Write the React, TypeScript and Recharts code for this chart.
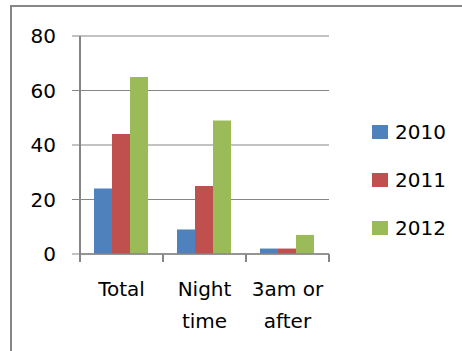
import React from 'react';
import { BarChart, Bar, XAxis, YAxis, CartesianGrid } from 'recharts';

const categories = ['Total', 'Night time', '3am or after'];
const categoryLines = [['Total'], ['Night', 'time'], ['3am or', 'after']];
const values2010 = [24, 9, 2];
const values2011 = [44, 25, 2];
const values2012 = [65, 49, 7];
const yTicks = [0, 20, 40, 60, 80];

const SERIES = [
  { key: '2010', color: '#4F81BD' },
  { key: '2011', color: '#C0504D' },
  { key: '2012', color: '#9BBB59' },
];

const W = 462;
const H = 351;
const MARGIN = { top: 36, right: 133, bottom: 0, left: 0 };
const Y_AXIS_W = 80;
const X_AXIS_H = 97;
const AXIS_GRAY = '#868686';
const FONT = '"DejaVu Sans", sans-serif';

const PLOT_BOTTOM = H - MARGIN.bottom - X_AXIS_H;
const BAND = (W - MARGIN.left - MARGIN.right - Y_AXIS_W) / categories.length;

const data = categories.map((name, i) => ({
  name,
  '2010': values2010[i],
  '2011': values2011[i],
  '2012': values2012[i],
}));

const CategoryTick = (props: any) => {
  const { x, index } = props;
  const lines = categoryLines[index] || [];
  const left = x - BAND / 2;
  const right = x + BAND / 2;
  return (
    <g>
      <line x1={left} x2={left} y1={PLOT_BOTTOM} y2={PLOT_BOTTOM + 8} stroke={AXIS_GRAY} strokeWidth={2} />
      {index === categories.length - 1 && (
        <line x1={right} x2={right} y1={PLOT_BOTTOM} y2={PLOT_BOTTOM + 8} stroke={AXIS_GRAY} strokeWidth={2} />
      )}
      {lines.map((t, i) => (
        <text
          key={t}
          x={x}
          y={PLOT_BOTTOM + 42 + i * 32}
          textAnchor="middle"
          fill="#000"
          fontSize={20}
          fontFamily={FONT}
        >
          {t}
        </text>
      ))}
    </g>
  );
};

// legend sits to the right of the plot, one row per year
const LegendBox = () => (
  <div
    style={{
      position: 'absolute',
      left: 372,
      top: 108,
      fontFamily: FONT,
      fontSize: 20,
      color: '#000',
    }}
  >
    {SERIES.map((s) => (
      <div key={s.key} style={{ display: 'flex', alignItems: 'center', height: 48 }}>
        <span style={{ display: 'inline-block', width: 16, height: 14, background: s.color, marginRight: 7 }} />
        <span>{s.key}</span>
      </div>
    ))}
  </div>
);

export default function App() {
  return (
    <div style={{ position: 'absolute', left: 0, top: 0, width: W, height: H, background: '#fff' }}>
      <div
        style={{
          position: 'absolute',
          left: 10,
          top: 5,
          width: W - 12,
          height: H - 7,
          borderLeft: `2px solid ${AXIS_GRAY}`,
          borderTop: `2px solid ${AXIS_GRAY}`,
        }}
      />
      <div style={{ position: 'absolute', left: 0, top: 0 }}>
        <BarChart width={W} height={H} data={data} margin={MARGIN} barGap={0} barCategoryGap={14}>
          <CartesianGrid vertical={false} stroke={AXIS_GRAY} strokeWidth={1} />
          <XAxis
            dataKey="name"
            height={X_AXIS_H}
            axisLine={{ stroke: AXIS_GRAY, strokeWidth: 1.5 }}
            tickLine={false}
            tick={<CategoryTick />}
            interval={0}
          />
          <YAxis
            width={Y_AXIS_W}
            domain={[0, 80]}
            ticks={yTicks}
            interval={0}
            axisLine={{ stroke: AXIS_GRAY, strokeWidth: 2 }}
            tickLine={{ stroke: AXIS_GRAY, strokeWidth: 1 }}
            tickSize={8}
            tickMargin={16}
            tick={{ fill: '#000', fontSize: 20, fontFamily: FONT }}
          />
          {SERIES.map((s) => (
            <Bar key={s.key} dataKey={s.key} fill={s.color} isAnimationActive={false} />
          ))}
        </BarChart>
      </div>
      <LegendBox />
    </div>
  );
}
